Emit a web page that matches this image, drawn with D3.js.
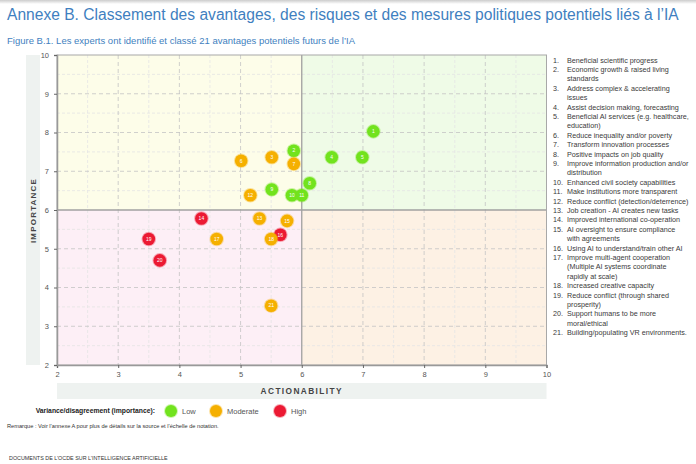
<!DOCTYPE html>
<html><head><meta charset="utf-8">
<script src="https://cdn.jsdelivr.net/npm/d3@7"></script>
<style>
body{margin:0;background:#fff;}
svg{display:block;font-family:"Liberation Sans",Arial,sans-serif;}
</style></head>
<body><svg id="c" width="696" height="464"></svg>
<script>
const ids = [1,2,3,4,5,6,7,8,9,10,11,12,13,14,15,16,17,18,19,20,21];
const actionability = [7.17,5.87,5.51,6.49,6.99,5.01,5.87,6.13,5.51,5.84,6.0,5.16,5.31,4.36,5.76,5.65,4.61,5.50,3.50,3.68,5.50];
const importance = [8.03,7.53,7.36,7.36,7.36,7.27,7.19,6.69,6.53,6.38,6.38,6.38,5.78,5.78,5.72,5.36,5.25,5.25,5.25,4.70,3.53];
const variance = ["Low","Low","Moderate","Low","Low","Moderate","Moderate","Low","Low","Low","Low","Moderate","Moderate","High","Moderate","High","Moderate","Moderate","High","High","Moderate"];
const benefits = [
 ["Beneficial scientific progress"],
 ["Economic growth & raised living","standards"],
 ["Address complex & accelerating","issues"],
 ["Assist decision making, forecasting"],
 ["Beneficial AI services (e.g. healthcare,","education)"],
 ["Reduce inequality and/or poverty"],
 ["Transform innovation processes"],
 ["Positive impacts on job quality"],
 ["Improve information production and/or","distribution"],
 ["Enhanced civil society capabilities"],
 ["Make institutions more transparent"],
 ["Reduce conflict (detection/deterrence)"],
 ["Job creation - AI creates new tasks"],
 ["Improved international co-operation"],
 ["AI oversight to ensure compliance","with agreements"],
 ["Using AI to understand/train other AI"],
 ["Improve multi-agent cooperation","(Multiple AI systems coordinate","rapidly at scale)"],
 ["Increased creative capacity"],
 ["Reduce conflict (through shared","prosperity)"],
 ["Support humans to be more","moral/ethical"],
 ["Building/populating VR environments."]
];
const levels = ["Low","Moderate","High"];
const levelColors = ["#72e31e","#f5b000","#ec1a33"];
const xTicks = [2,3,4,5,6,7,8,9,10];
const yTicks = [2,3,4,5,6,7,8,9,10];
const title = "Annexe B. Classement des avantages, des risques et des mesures politiques potentiels liés à l’IA";
const subtitle = "Figure B.1. Les experts ont identifié et classé 21 avantages potentiels futurs de l’IA";
const legendTitle = "Variance/disagreement (importance):";
const note = "Remarque : Voir l’annexe A pour plus de détails sur la source et l’échelle de notation.";
const footer = "DOCUMENTS DE L’OCDE SUR L’INTELLIGENCE ARTIFICIELLE";

const svg = d3.select("#c");
const L=57, R=546.5, T=55, B=365;
const x = d3.scaleLinear().domain([2,10]).range([L,R]);
const y = d3.scaleLinear().domain([2,10]).range([B,T]);
const color = d3.scaleOrdinal().domain(levels).range(levelColors);

// top shadow
const defs = svg.append("defs");
const g0 = defs.append("linearGradient").attr("id","sh").attr("x1",0).attr("x2",0).attr("y1",0).attr("y2",1);
g0.append("stop").attr("offset",0).attr("stop-color","#ccc");
g0.append("stop").attr("offset",1).attr("stop-color","#fff");
svg.append("rect").attr("x",0).attr("y",0).attr("width",696).attr("height",4).attr("fill","url(#sh)");

svg.append("text").attr("x",7).attr("y",20).attr("fill","#3f7fc0").attr("font-size",15.6).text(title);
svg.append("text").attr("x",7).attr("y",44).attr("fill","#3f7fc0").attr("font-size",9.5).text(subtitle);

// label strips
svg.append("rect").attr("x",26).attr("y",T).attr("width",14).attr("height",B-T).attr("fill","#eef2f0");
svg.append("rect").attr("x",L).attr("y",383).attr("width",R-L).attr("height",16).attr("fill","#eef2f0");

// quadrants
const quads = [[2,6,6,10,"#fdfde9"],[6,10,6,10,"#effbe7"],[2,6,2,6,"#fdeff6"],[6,10,2,6,"#fdf1e4"]];
svg.selectAll("rect.q").data(quads).join("rect").attr("class","q")
  .attr("x",d=>x(d[0])).attr("width",d=>x(d[1])-x(d[0]))
  .attr("y",d=>y(d[3])).attr("height",d=>y(d[2])-y(d[3])).attr("fill",d=>d[4]);

// minor grid
const minor = d3.range(2.5,10,1);
svg.append("g").selectAll("line").data(minor).join("line")
  .attr("x1",d=>x(d)).attr("x2",d=>x(d)).attr("y1",T).attr("y2",B)
  .attr("stroke","#e4e4e4").attr("stroke-width",0.8).attr("stroke-dasharray","3,2");
svg.append("g").selectAll("line").data(minor).join("line")
  .attr("y1",d=>y(d)).attr("y2",d=>y(d)).attr("x1",L).attr("x2",R)
  .attr("stroke","#e4e4e4").attr("stroke-width",0.8).attr("stroke-dasharray","3,2");
// major grid
svg.append("g").selectAll("line").data(xTicks.filter(d=>d>2&&d<10&&d!==6)).join("line")
  .attr("x1",d=>x(d)).attr("x2",d=>x(d)).attr("y1",T).attr("y2",B)
  .attr("stroke","#c4c4c4").attr("stroke-width",0.8).attr("stroke-dasharray","4,3");
svg.append("g").selectAll("line").data(yTicks.filter(d=>d>2&&d<10&&d!==6)).join("line")
  .attr("y1",d=>y(d)).attr("y2",d=>y(d)).attr("x1",L).attr("x2",R)
  .attr("stroke","#c4c4c4").attr("stroke-width",0.8).attr("stroke-dasharray","4,3");
// quadrant dividers
svg.append("line").attr("x1",x(6)).attr("x2",x(6)).attr("y1",T).attr("y2",B).attr("stroke","#a0a0a0").attr("stroke-width",1.3);
svg.append("line").attr("y1",y(6)).attr("y2",y(6)).attr("x1",L).attr("x2",R).attr("stroke","#a0a0a0").attr("stroke-width",1.3);
// border
svg.append("rect").attr("x",L).attr("y",T).attr("width",R-L).attr("height",B-T).attr("fill","none").attr("stroke","#a8a8a8").attr("stroke-width",1);

// axes
const xa = svg.append("g").attr("transform",`translate(0,${B})`)
  .call(d3.axisBottom(x).tickValues(xTicks).tickSize(3).tickPadding(4).tickFormat(d3.format("d")));
const ya = svg.append("g").attr("transform",`translate(${L},0)`)
  .call(d3.axisLeft(y).tickValues(yTicks).tickSize(3).tickPadding(5).tickFormat(d3.format("d")));
[xa,ya].forEach(a=>{
  a.select(".domain").attr("stroke","#999").attr("stroke-width",1.5);
  a.selectAll(".tick line").attr("stroke","#666");
  a.selectAll(".tick text").attr("fill","#555").attr("font-size",7.5).attr("font-family","Liberation Sans, Arial, sans-serif");
});

svg.append("text").attr("transform","translate(36,210.5) rotate(-90)").attr("text-anchor","middle")
  .attr("font-size",8).attr("font-weight","bold").attr("letter-spacing",1.2).attr("fill","#444").text("IMPORTANCE");
svg.append("text").attr("x",x(6)).attr("y",394).attr("text-anchor","middle")
  .attr("font-size",8.3).attr("font-weight","bold").attr("letter-spacing",1.4).attr("fill","#444").text("ACTIONABILITY");

// points
const pts = ids.map((id,i)=>({id, a:actionability[i], m:importance[i], v:variance[i]}));
const pg = svg.append("g").selectAll("g").data(pts).join("g")
  .attr("transform",d=>`translate(${x(d.a)},${y(d.m)})`);
pg.append("circle").attr("r",6.3).attr("fill",d=>color(d.v))
  .attr("stroke",d=>color(d.v)).attr("stroke-opacity",0.35).attr("stroke-width",2);
pg.append("text").attr("text-anchor","middle").attr("dy","0.35em").attr("font-size",5).attr("fill","#fff").text(d=>d.id);

// right list
let ly = 62.5;
const lg = svg.append("g").attr("font-size",7.2).attr("fill","#3a3a3a");
benefits.forEach((lines,i)=>{
  lg.append("text").attr("x",553).attr("y",ly).text(ids[i]+".");
  lines.forEach((ln,j)=>{
    lg.append("text").attr("x",567).attr("y",ly).text(ln);
    ly += 9.4;
  });
});

// bottom legend
svg.append("text").attr("x",155).attr("y",413).attr("text-anchor","end").attr("font-size",6.8).attr("font-weight","bold").attr("fill","#222").text(legendTitle);
const legX = [171,216,280];
const lgg = svg.append("g").selectAll("g").data(levels).join("g").attr("transform",(d,i)=>`translate(${legX[i]},411)`);
lgg.append("circle").attr("r",6).attr("fill",d=>color(d)).attr("stroke",d=>color(d)).attr("stroke-opacity",0.35).attr("stroke-width",2);
lgg.append("text").attr("x",11).attr("y",3).attr("font-size",7.5).attr("fill","#555").text(d=>d);

svg.append("text").attr("x",7).attr("y",428).attr("font-size",5.65).attr("fill","#333").text(note);
svg.append("text").attr("x",9).attr("y",460).attr("font-size",5.4).attr("fill","#333").text(footer);
</script></body></html>
